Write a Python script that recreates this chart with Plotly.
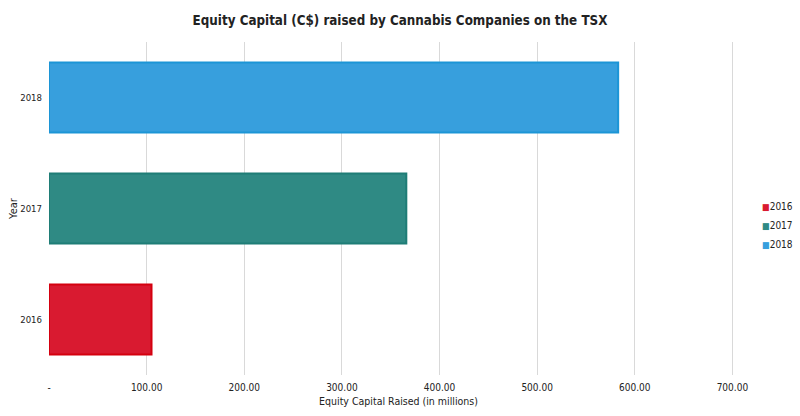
import plotly.graph_objects as go

years = ["2016", "2017", "2018"]
values = [105, 366, 583]
fill_colors = ["#D91A30", "#2F8A84", "#379FDD"]
line_colors = ["#D4000F", "#1F7D76", "#1C95D6"]
tick_vals = [0, 100, 200, 300, 400, 500, 600, 700]
tick_text = ["-", "100.00", "200.00", "300.00", "400.00", "500.00", "600.00", "700.00"]

font_family = "DejaVu Sans Condensed, Open Sans, sans-serif"

fig = go.Figure()
for yr, v, fc, lc in zip(years, values, fill_colors, line_colors):
    fig.add_trace(go.Bar(
        y=[yr], x=[v], name=yr, orientation="h",
        marker=dict(color=fc, line=dict(color=lc, width=2)),
        width=0.63, showlegend=False,
    ))
# legend entries: small coloured square drawn in the label, symbol itself hidden
for yr, fc in zip(years, fill_colors):
    fig.add_trace(go.Scatter(
        x=[None], y=[None], mode="markers",
        name=f'<span style="color:{fc};font-size:9px">■</span>{yr}',
        marker=dict(symbol="square", size=1, color="rgba(0,0,0,0)"),
        showlegend=True,
    ))

fig.update_layout(
    width=800, height=416,
    margin=dict(l=49, r=52, t=42, b=41, autoexpand=False),
    paper_bgcolor="white", plot_bgcolor="white",
    barmode="overlay",
    hovermode=False,
    font=dict(family=font_family, size=11, color="#222"),
    title=dict(text="<b>Equity Capital (C$) raised by Cannabis Companies on the TSX</b>",
               x=0.5, xanchor="center", y=0.952, yanchor="middle",
               font=dict(size=13.3, color="#222")),
    xaxis=dict(range=[0, 716], tickvals=tick_vals, ticktext=tick_text,
               showgrid=True, gridcolor="#D9D9D9", gridwidth=1,
               zeroline=False, showline=False, ticks="", automargin=False,
               tickfont=dict(size=10), ticklabelstandoff=5,
               title=dict(text="Equity Capital Raised (in millions)", font=dict(size=10.5), standoff=5)),
    yaxis=dict(categoryorder="array", categoryarray=years,
               showgrid=False, zeroline=False, showline=False, ticks="", automargin=False,
               tickfont=dict(size=9.5), ticklabelstandoff=6,
               title=dict(text="Year", font=dict(size=11), standoff=0)),
    legend=dict(x=0.9025, xref="container", xanchor="left", y=0.45, yanchor="middle",
                font=dict(size=10), traceorder="normal", bgcolor="rgba(0,0,0,0)",
                itemwidth=30, tracegroupgap=0, itemsizing="trace"),
)

fig.write_html("out.html", config={"displayModeBar": False},
               post_script="document.body.style.margin='0';")
